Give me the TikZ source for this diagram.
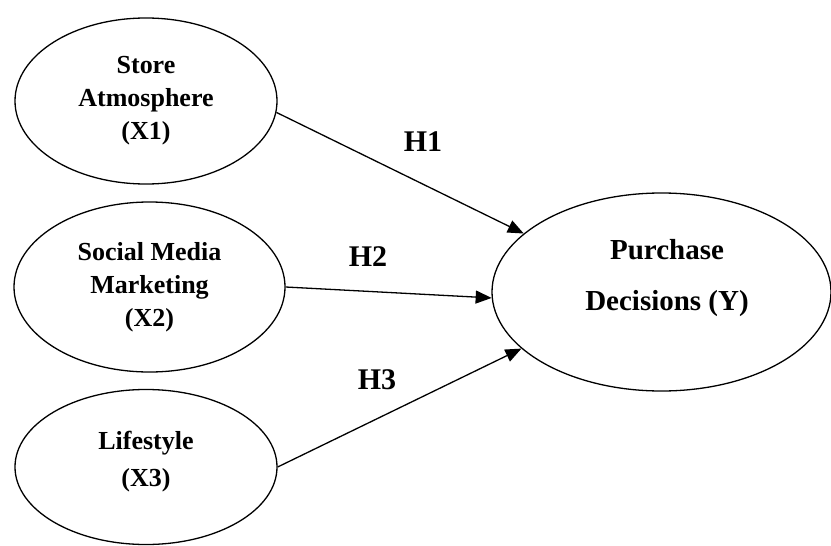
\documentclass[tikz,border=0pt]{standalone}
\usepackage{fontspec}
\setmainfont{Liberation Serif}
\usetikzlibrary{shapes,arrows.meta}
\tikzstyle{latent} = [draw, ellipse, line width=1.3pt, inner sep=0pt, align=center,
  font=\fontsize{26}{33}\selectfont\bfseries]
\tikzstyle{hyp} = [font=\fontsize{30}{36}\selectfont\bfseries]

\begin{document}
\begin{tikzpicture}[x=1pt,y=-1pt,->,>={Triangle[length=16pt,width=13pt]},line width=1.3pt]
\useasboundingbox (0,0) rectangle (831,546);

\node[latent, minimum width=262pt, minimum height=166pt] (x1) at (146,101) {Store\\Atmosphere\\(X1)};
\node[latent, minimum width=271pt, minimum height=170pt] (x2) at (149.5,287) {Social Media\\Marketing\\(X2)};
\node[latent, minimum width=262pt, minimum height=155pt,
  font=\fontsize{26}{37}\selectfont\bfseries] (x3) at (146,467) {};
\node[font=\fontsize{26}{37}\selectfont\bfseries, align=center] (x3txt) at (146,462) {Lifestyle\\(X3)};
\node[latent, minimum width=339pt, minimum height=198pt] (y) at (661.5,292) {};
\node[font=\fontsize{29}{51}\selectfont\bfseries, align=center] (ytxt) at (667,278) {Purchase\\Decisions (Y)};

\node[hyp] (h1) at (423,142) {H1};
\node[hyp] (h2) at (368,257) {H2};
\node[hyp] (h3) at (377,380) {H3};

\path
(x1.-5) edge [] node {} (y.157)
(x2.east) edge [] node {} (y.182)
(x3.east) edge [] node {} (y.202);

\end{tikzpicture}
\end{document}
